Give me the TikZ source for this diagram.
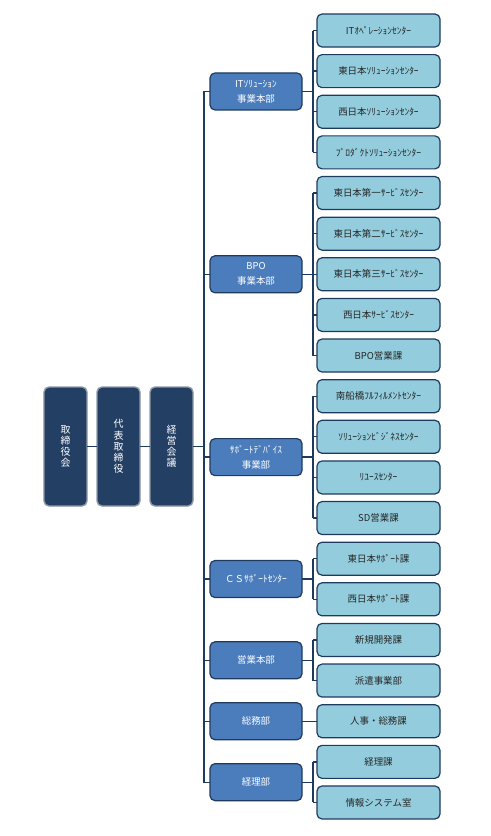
\documentclass[tikz,border=0pt]{standalone}
\usepackage{fontspec}
\setmainfont{Noto Sans CJK JP}
\usetikzlibrary{positioning, calc}

\definecolor{navy}{HTML}{1F3A5F}
\definecolor{boardfill}{HTML}{233F64}
\definecolor{boardline}{HTML}{8E98A4}
\definecolor{unitfill}{HTML}{4B7DBD}
\definecolor{sectfill}{HTML}{93CDDD}

\begin{document}
\begin{tikzpicture}[
      x = 1bp, y = -1bp,
      board/.style={
        draw = boardline,
        line width = 1.4bp,
        rounded corners = 5bp,
        fill = boardfill,
        text = white,
        align = center,
        inner sep = 0pt,
        outer sep = 0pt,
        minimum width = 43bp,
        minimum height = 119bp,
        font = \fontsize{10}{11.2}\selectfont,
      },
      unit/.style={
        draw = navy,
        line width = 1.2bp,
        rounded corners = 5bp,
        fill = unitfill,
        text = white,
        align = center,
        inner sep = 0pt,
        outer sep = 0pt,
        minimum width = 92bp,
        minimum height = 37bp,
        font = \fontsize{9.5}{15}\selectfont,
      },
      section/.style={
        draw = navy,
        line width = 1.2bp,
        rounded corners = 5bp,
        fill = sectfill,
        text = black!85,
        align = center,
        inner sep = 0pt,
        outer sep = 0pt,
        minimum width = 123bp,
        minimum height = 33bp,
        font = \fontsize{9.5}{11}\selectfont,
      },
      link/.style={
        draw = navy,
        line width = 1.3bp,
      },
    ]
    \useasboundingbox (0,0) rectangle (491,836);

    % sections, top to bottom
    \node[section] (c1) at (378.5,30.5) {ITｵﾍﾟﾚｰｼｮﾝｾﾝﾀｰ};
    \node[section, below = 7.63bp of c1] (c2) {東日本ｿﾘｭｰｼｮﾝｾﾝﾀｰ};
    \node[section, below = 7.63bp of c2] (c3) {西日本ｿﾘｭｰｼｮﾝｾﾝﾀｰ};
    \node[section, below = 7.63bp of c3] (c4) {ﾌﾟﾛﾀﾞｸﾄｿﾘｭｰｼｮﾝｾﾝﾀｰ};
    \node[section, below = 7.63bp of c4] (c5) {東日本第一ｻｰﾋﾞｽｾﾝﾀｰ};
    \node[section, below = 7.63bp of c5] (c6) {東日本第二ｻｰﾋﾞｽｾﾝﾀｰ};
    \node[section, below = 7.63bp of c6] (c7) {東日本第三ｻｰﾋﾞｽｾﾝﾀｰ};
    \node[section, below = 7.63bp of c7] (c8) {西日本ｻｰﾋﾞｽｾﾝﾀｰ};
    \node[section, below = 7.63bp of c8] (c9) {BPO営業課};
    \node[section, below = 7.63bp of c9] (c10) {南船橋ﾌﾙﾌｨﾙﾒﾝﾄｾﾝﾀｰ};
    \node[section, below = 7.63bp of c10] (c11) {ｿﾘｭｰｼｮﾝﾋﾞｼﾞﾈｽｾﾝﾀｰ};
    \node[section, below = 7.63bp of c11] (c12) {ﾘﾕｰｽｾﾝﾀｰ};
    \node[section, below = 7.63bp of c12] (c13) {SD営業課};
    \node[section, below = 7.63bp of c13] (c14) {東日本ｻﾎﾟｰﾄ課};
    \node[section, below = 7.63bp of c14] (c15) {西日本ｻﾎﾟｰﾄ課};
    \node[section, below = 7.63bp of c15] (c16) {新規開発課};
    \node[section, below = 7.63bp of c16] (c17) {派遣事業部};
    \node[section, below = 7.63bp of c17] (c18) {人事・総務課};
    \node[section, below = 7.63bp of c18] (c19) {経理課};
    \node[section, below = 7.63bp of c19] (c20) {情報システム室};

    % units, centred on their sections
    \coordinate (m-it) at ($(c1.west)!0.5!(c4.west)$);
    \coordinate (m-bpo) at ($(c5.west)!0.5!(c9.west)$);
    \coordinate (m-sd) at ($(c10.west)!0.5!(c13.west)$);
    \coordinate (m-cs) at ($(c14.west)!0.5!(c15.west)$);
    \coordinate (m-eigyo) at ($(c16.west)!0.5!(c17.west)$);
    \coordinate (m-keiri) at ($(c19.west)!0.5!(c20.west)$);
    \node[unit, left = 15bp of m-it] (itsol) {ITｿﾘｭｰｼｮﾝ\\事業本部};
    \node[unit, left = 15bp of m-bpo] (bpo) {BPO\\事業本部};
    \node[unit, left = 15bp of m-sd] (sd) {ｻﾎﾟｰﾄﾃﾞﾊﾞｲｽ\\事業部};
    \node[unit, left = 15bp of m-cs] (cs) {ＣＳｻﾎﾟｰﾄｾﾝﾀｰ};
    \node[unit, left = 15bp of m-eigyo] (eigyo) {営業本部};
    \node[unit, left = 15bp of c18] (soumu) {総務部};
    \node[unit, left = 15bp of m-keiri] (keiri) {経理部};

    % board column
    \node[board] (kaigi) at (171.5,446.5) {経\\営\\会\\議};
    \node[board, left = 10bp of kaigi] (daihyo) {代\\表\\取\\締\\役};
    \node[board, left = 10bp of daihyo] (torishimari) {取\\締\\役\\会};

    % connectors
    \coordinate (trunk) at ($(itsol.west)+(-6bp,0)$);
    \coordinate (bar) at ($(c1.west)+(-4bp,0)$);
    \draw[link] (torishimari.east) -- (daihyo.west);
    \draw[link] (daihyo.east) -- (kaigi.west);
    \draw[link] (kaigi.east) -- (kaigi.east -| trunk);
    \draw[link] (itsol.west) -- (trunk) |- (keiri.west);
    \foreach \u in {bpo, sd, cs, eigyo, soumu}
      \draw[link] (\u.west) -- (\u.west -| trunk);
    \foreach \u in {itsol, bpo, sd, cs, eigyo, soumu, keiri}
      \draw[link] (\u.east) -- (\u.east -| bar);
    \foreach \a/\b in {c1/c4, c5/c9, c10/c13, c14/c15, c16/c17, c19/c20}
      \draw[link] (\a.west -| bar) -- (\b.west -| bar);
    \foreach \c in {c1,c2,c3,c4,c5,c6,c7,c8,c9,c10,c11,c12,c13,c14,c15,c16,c17,c18,c19,c20}
      \draw[link] (\c.west) -- (\c.west -| bar);
  \end{tikzpicture}
\end{document}
